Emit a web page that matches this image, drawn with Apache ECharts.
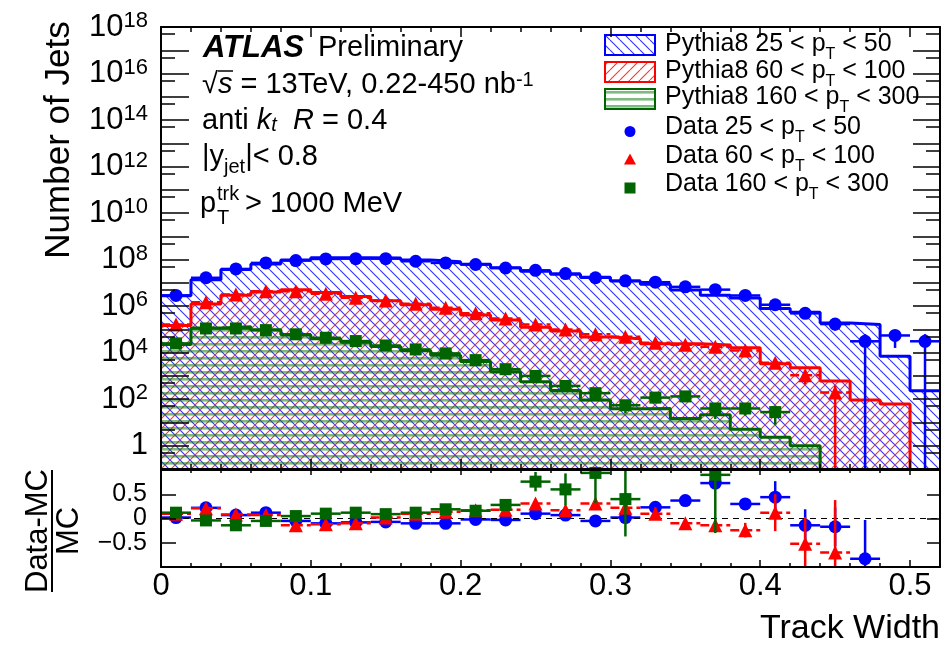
<!DOCTYPE html>
<html><head><meta charset="utf-8">
<script src="https://cdn.jsdelivr.net/npm/echarts@6/dist/echarts.min.js"></script>
<style>html,body{margin:0;padding:0;background:#fff}#c{width:949px;height:646px}</style>
</head><body><div id="c"></div>
<script>
// ---------------- data ----------------
const binCenters = [0.01,0.03,0.05,0.07,0.09,0.11,0.13,0.15,0.17,0.19,0.21,0.23,0.25,0.27,0.29,0.31,0.33,0.35,0.37,0.39,0.41,0.43,0.45,0.47,0.49,0.51];
const binWidth = 0.02;

// Pythia8 (MC) histograms, number of jets per bin
const blueMC  = [2.82e6,1.35e7,3.72e7,6.46e7,9.55e7,1.20e8,1.20e8,1.17e8,9.55e7,8.13e7,6.31e7,4.47e7,3.16e7,2.34e7,1.74e7,1.20e7,8.71e6,4.90e6,2.95e6,2.24e6,7.94e5,5.50e5,1.91e5,1.62e5,7.08e3,229];
const redMC   = [1.48e5,1.23e6,2.95e6,4.07e6,5.13e6,3.89e6,2.57e6,1.70e6,1.15e6,7.41e5,4.17e5,2.51e5,1.23e5,8.51e4,4.68e4,3.98e4,2.45e4,2.45e4,2.14e4,1.62e4,3.31e3,2.24e3,603,93,62];
const greenMC = [2.24e4,1.15e5,1.29e5,9.77e4,5.89e4,3.98e4,2.82e4,1.86e4,1.23e4,7.76e3,4.17e3,1.51e3,562,234,93,39,40,14.8,21.4,5.1,2.3,1.0];

// Data points
const blueData  = [2.88e6,1.66e7,3.98e7,7.24e7,9.12e7,1.07e8,1.10e8,1.10e8,8.51e7,7.24e7,6.17e7,4.37e7,3.47e7,2.51e7,1.66e7,1.23e7,1.07e7,6.76e6,5.13e6,2.88e6,1.15e6,4.90e5,1.70e5,3.09e4,5.50e4,3.09e4];
const redData   = [1.62e5,1.48e6,3.16e6,4.37e6,4.37e6,3.39e6,2.29e6,1.74e6,1.26e6,8.51e5,4.90e5,2.95e5,1.62e5,1.00e5,6.17e4,4.90e4,2.69e4,2.19e4,1.82e4,1.23e4,3.72e3,1.07e3,195];
const greenData = [2.51e4,1.10e5,1.10e5,9.33e4,6.17e4,4.37e4,3.16e4,2.04e4,1.38e4,9.33e3,4.79e3,1.95e3,1.00e3,372,182,55,117,132,40,40,28];

const blueDataErr  = [0,0,0,0,0,0,0,0,0,0,0,0,0,0,0,0,0,0,0,0,2.6e5,1.9e5,8.2e4,3.2e4,3.9e4,3.2e4];
const redDataErr   = [0,0,0,0,0,0,0,0,0,0,0,0,0,0,0,0,0,0,0,0,1260,640,200];
const greenDataErr = [0,0,0,0,0,0,0,0,0,0,0,0,0,0,58,30,47,53,26,20,20];

// (Data-MC)/MC
const blueRatio  = [0.02,0.22,0.07,0.12,-0.05,-0.10,-0.08,-0.07,-0.10,-0.10,-0.02,-0.03,0.10,0.07,-0.05,0.02,0.23,0.37,0.73,0.30,0.44,-0.14,-0.17,-0.83];
const redRatio   = [0.10,0.21,0.08,0.07,-0.14,-0.12,-0.10,0.02,0.10,0.14,0.17,0.18,0.31,0.17,0.31,0.22,0.10,-0.10,-0.14,-0.24,0.12,-0.52,-0.70];
const greenRatio = [0.12,-0.04,-0.14,-0.05,0.05,0.10,0.12,0.09,0.12,0.19,0.16,0.28,0.76,0.60,0.94,0.40,null,null,0.90,null,null];
const blueRatioErr  = [0.01,0.01,0.01,0.01,0.01,0.01,0.01,0.01,0.01,0.01,0.01,0.01,0.01,0.01,0.01,0.01,0.03,0.05,0.10,0.10,0.33,0.33,0.40,0.80];
const redRatioErr   = [0.01,0.01,0.01,0.01,0.01,0.01,0.01,0.01,0.01,0.01,0.01,0.01,0.02,0.02,0.03,0.03,0.13,0.06,0.07,0.15,0.38,0.55,1.08];
const greenRatioErr = [0.02,0.02,0.02,0.02,0.02,0.02,0.02,0.02,0.02,0.02,0.02,0.05,0.20,0.33,0.62,0.77,0,0,1.20,0,0];

// axis ticks / labels
const X_MIN = 0, X_MAX = 0.52;
const Y_MIN = 0.1, Y_MAX = 1e18;
const xLabelValues = [0,0.1,0.2,0.3,0.4,0.5];
const xMinorTicks = [0.02,0.04,0.06,0.08,0.12,0.14,0.16,0.18,0.22,0.24,0.26,0.28,0.32,0.34,0.36,0.38,0.42,0.44,0.46,0.48];
const yLabelValues = [1,1e2,1e4,1e6,1e8,1e10,1e12,1e14,1e16,1e18];
const yMajorTicks = [1,1e1,1e2,1e3,1e4,1e5,1e6,1e7,1e8,1e9,1e10,1e11,1e12,1e13,1e14,1e15,1e16,1e17,1e18];
const yMinorTicks = [0.5,5,5e1,5e2,5e3,5e4,5e5,5e6,5e7,5e8,5e9,5e10,5e11,5e12,5e13,5e14,5e15,5e16,5e17];
const ratioTickValues = [-0.5,0,0.5];
const ratioLabelsOuter = [-0.5,0.5];
const ratioLabelsInner = [0];

// ---------------- helpers ----------------
const FONT = '"Liberation Sans", Arial, Helvetica, sans-serif';
const BLUE = '#0000ff', RED = '#ff0000', GREEN = '#006400';
const EMPTY = 1e-3;

function pattern(kind, color) {
  const c = document.createElement('canvas');
  if (kind === 'h') { c.width = 10; c.height = 7; } else { c.width = 10; c.height = 10; }
  const ctx = c.getContext('2d');
  if (kind === 'h') {
    ctx.fillStyle = color; ctx.fillRect(0, 0, 10, 2.6);
  } else {
    ctx.strokeStyle = color; ctx.lineWidth = 1.1;
    ctx.beginPath();
    for (let k = -1; k <= 1; k++) {
      if (kind === 'b') { ctx.moveTo(k * 10, 0); ctx.lineTo(k * 10 + 10, 10); }
      else { ctx.moveTo(k * 10, 10); ctx.lineTo(k * 10 + 10, 0); }
    }
    ctx.stroke();
  }
  return { image: c, repeat: 'repeat' };
}
const patBlue = pattern('b', '#3333ff');
const patRed = pattern('f', '#ff3333');
const patGreen = pattern('h', 'rgba(0,120,0,0.5)');

function histSteps(vals) {
  const pts = vals.map((v, i) => [binCenters[i] - binWidth / 2, v]);
  const lastEdge = binCenters[vals.length - 1] + binWidth / 2;
  pts.push([lastEdge, vals[vals.length - 1]]);
  if (lastEdge < X_MAX - 1e-9) pts.push([lastEdge, EMPTY]);
  return pts;
}
function upperErrPoints(vals, errs) {
  return vals.map((v, i) => [binCenters[i], v, Math.max(v - errs[i], EMPTY), v + errs[i]]);
}
function ratioErrPoints(vals, errs) {
  const out = [];
  vals.forEach((r, i) => { if (r !== null) out.push([binCenters[i], r, r - errs[i], r + errs[i]]); });
  return out;
}
function points(vals) {
  const out = [];
  vals.forEach((v, i) => { if (v !== null) out.push([binCenters[i], v]); });
  return out;
}
function errSeries(data, xi, yi, color, dashH, z) {
  return {
    type: 'custom', xAxisIndex: xi, yAxisIndex: yi, clip: true, z: z, silent: true,
    data: data, encode: { x: 0, y: 1 },
    renderItem: function (params, api) {
      const x = api.value(0), y = api.value(1), lo = api.value(2), hi = api.value(3);
      const a = api.coord([x - binWidth / 2, y]), b = api.coord([x + binWidth / 2, y]);
      const t = api.coord([x, hi]), u = api.coord([x, lo]);
      return { type: 'group', children: [
        { type: 'line', shape: { x1: a[0], y1: a[1], x2: b[0], y2: b[1] }, style: { stroke: color, lineWidth: 2.5, lineDash: dashH || null } },
        { type: 'line', shape: { x1: t[0], y1: t[1], x2: u[0], y2: u[1] }, style: { stroke: color, lineWidth: 2.5 } }
      ] };
    }
  };
}
function histSeries(vals, color, pat, z) {
  return {
    type: 'line', xAxisIndex: 0, yAxisIndex: 0, data: histSteps(vals), step: 'end',
    symbol: 'none', showSymbol: false, clip: true, z: z, silent: true,
    lineStyle: { color: color, width: 3 },
    areaStyle: { color: pat, origin: 'start', opacity: 1 }
  };
}
function scatterSeries(vals, xi, yi, symbol, size, color, z) {
  return { type: 'scatter', xAxisIndex: xi, yAxisIndex: yi, data: points(vals), symbol: symbol,
    symbolSize: size, itemStyle: { color: color, opacity: 1 }, z: z, clip: true, silent: true };
}

const frameLine = { show: true, onZero: false, lineStyle: { color: '#000', width: 2 } };
const noLine = { show: false, onZero: false };
function xAx(grid, pos, ticks, len, showLine, label) {
  return { type: 'value', gridIndex: grid, position: pos, min: X_MIN, max: X_MAX, z: 10,
    axisLine: showLine ? frameLine : noLine,
    axisTick: { show: true, inside: true, length: len, customValues: ticks, lineStyle: { color: '#000', width: 1.5 } },
    axisLabel: label || { show: false }, splitLine: { show: false } };
}
function yUp(pos, ticks, len, showLine, label) {
  return { type: 'log', logBase: 10, gridIndex: 0, position: pos, min: Y_MIN, max: Y_MAX, z: 10,
    axisLine: showLine ? frameLine : noLine,
    axisTick: ticks ? { show: true, inside: true, length: len, customValues: ticks, lineStyle: { color: '#000', width: 1.5 } } : { show: false },
    axisLabel: label || { show: false }, splitLine: { show: false } };
}
function yLow(pos, len, showLine, label) {
  return { type: 'value', gridIndex: 1, position: pos, min: -1, max: 1, z: 10,
    axisLine: showLine ? frameLine : noLine,
    axisTick: len ? { show: true, inside: true, length: len, customValues: ratioTickValues, lineStyle: { color: '#000', width: 1.5 } } : { show: false },
    axisLabel: label || { show: false }, splitLine: { show: false } };
}

const xLabel = { show: true, customValues: xLabelValues, margin: 4, fontSize: 31, lineHeight: 31, color: '#000', fontFamily: FONT,
  showMinLabel: true, showMaxLabel: true, formatter: v => String(v) };
function yLabel(values) {
  return { show: true, customValues: values, margin: 13, color: '#000', showMinLabel: true, showMaxLabel: true, hideOverlap: false,
    formatter: function (v) { const e = Math.round(Math.log10(v)); return e === 0 ? '{m|1}' : '{m|10}{s|' + e + '}'; },
    rich: { m: { fontSize: 31, lineHeight: 34, fontFamily: FONT, color: '#000' },
            s: { fontSize: 22, lineHeight: 10, verticalAlign: 'top', fontFamily: FONT, color: '#000' } } };
}
function rLabel(values) {
  return { show: true, customValues: values, margin: 14, fontSize: 25, lineHeight: 20, color: '#000', fontFamily: FONT,
    showMinLabel: true, showMaxLabel: true, hideOverlap: false,
    formatter: v => (v < 0 ? '\u2212' + Math.abs(v) : String(v)) };
}
// top label placed a hair inside the axis range to avoid float rounding at the extent
const yLabelsMain = yLabelValues.slice(0, -1);
const yLabelsTop = yLabelValues.slice(-1).map(v => v * 0.99999);

// ---------------- text / legend graphics ----------------
function txt(x, y, text, size, extra) {
  return Object.assign({ type: 'text', x: x, y: y, silent: true,
    style: { text: text, fontSize: size, fontFamily: FONT, fill: '#000', align: 'left', verticalAlign: 'middle' } }, extra || {});
}
function richTxt(x, y, text, rich) {
  return { type: 'text', x: x, y: y, silent: true,
    style: { text: text, fontFamily: FONT, fill: '#000', align: 'left', verticalAlign: 'middle', rich: rich } };
}
const F = FONT;
const legendRich = { m: { fontSize: 25, lineHeight: 37, fontFamily: F, fill: '#000' },
                     s: { fontSize: 16, lineHeight: 10, verticalAlign: 'bottom', fontFamily: F, fill: '#000' } };
const legendItems = [
  { y: 45, ty: 44.5, box: patBlue, col: BLUE, text: '{m|Pythia8 25 < p}{s|T}{m| < 50}' },
  { y: 72, ty: 71, box: patRed, col: RED, text: '{m|Pythia8 60 < p}{s|T}{m| < 100}' },
  { y: 99, ty: 97.5, box: patGreen, col: GREEN, text: '{m|Pythia8 160 < p}{s|T}{m| < 300}' },
  { y: 131.5, ty: 127.5, sym: 'circle', col: BLUE, text: '{m|Data 25 < p}{s|T}{m| < 50}' },
  { y: 159.5, ty: 156, sym: 'triangle', col: RED, text: '{m|Data 60 < p}{s|T}{m| < 100}' },
  { y: 188, ty: 184.5, sym: 'rect', col: GREEN, text: '{m|Data 160 < p}{s|T}{m| < 300}' }
];
const graphics = [];
legendItems.forEach(it => {
  if (it.box) {
    graphics.push({ type: 'rect', silent: true, shape: { x: 605, y: it.y - 10, width: 50, height: 20 },
      style: { fill: it.box, stroke: it.col, lineWidth: 2 } });
  } else if (it.sym === 'circle') {
    graphics.push({ type: 'circle', silent: true, shape: { cx: 630, cy: it.y, r: 5.5 }, style: { fill: it.col } });
  } else if (it.sym === 'triangle') {
    graphics.push({ type: 'polygon', silent: true, shape: { points: [[630, it.y - 6], [636, it.y + 5], [624, it.y + 5]] }, style: { fill: it.col } });
  } else {
    graphics.push({ type: 'rect', silent: true, shape: { x: 624.5, y: it.y - 5.5, width: 11, height: 11 }, style: { fill: it.col } });
  }
  graphics.push(richTxt(665, it.ty, it.text, legendRich));
});

// ATLAS label block
graphics.push(txt(203, 48, 'ATLAS', 31, { style: { text: 'ATLAS', fontSize: 31, fontStyle: 'italic', fontWeight: 'bold', fontFamily: F, fill: '#000', align: 'left', verticalAlign: 'middle' } }));
graphics.push(txt(318, 48, 'Preliminary', 29));
graphics.push(richTxt(202, 85, '{m|\u221A}{i|s}{m| = 13TeV, 0.22-450 nb}{sup|-1}', {
  m: { fontSize: 29, lineHeight: 30, fontFamily: F }, i: { fontSize: 29, lineHeight: 30, fontStyle: 'italic', fontFamily: F },
  sup: { fontSize: 20, lineHeight: 10, verticalAlign: 'top', fontFamily: F } }));
graphics.push({ type: 'line', silent: true, shape: { x1: 218, y1: 71, x2: 233, y2: 71 }, style: { stroke: '#000', lineWidth: 1.5 } });
graphics.push(richTxt(202, 121, '{m|anti }{i|k}{isub|t}{m|  }{i|R}{m| = 0.4}', {
  m: { fontSize: 29, lineHeight: 28, fontFamily: F }, i: { fontSize: 29, lineHeight: 28, fontStyle: 'italic', fontFamily: F },
  isub: { fontSize: 20, lineHeight: 10, verticalAlign: 'bottom', fontStyle: 'italic', fontFamily: F } }));
graphics.push(richTxt(202, 157, '{m||y}{sub|jet}{m||< 0.8}', {
  m: { fontSize: 29, lineHeight: 41, fontFamily: F }, sub: { fontSize: 20, lineHeight: 10, verticalAlign: 'bottom', fontFamily: F } }));
graphics.push(txt(200, 204, 'p', 29));
graphics.push(txt(217, 194, 'trk', 20));
graphics.push(txt(217, 218, 'T', 20));
graphics.push(txt(245, 204, '> 1000 MeV', 29));

// axis titles
graphics.push(txt(59, 140, 'Number of Jets', 35, { rotation: Math.PI / 2, style: { text: 'Number of Jets', fontSize: 35, fontFamily: F, fill: '#000', align: 'center', verticalAlign: 'middle' } }));
graphics.push(txt(38, 531, 'Data-MC', 31, { rotation: Math.PI / 2, style: { text: 'Data-MC', fontSize: 31, fontFamily: F, fill: '#000', align: 'center', verticalAlign: 'middle' } }));
graphics.push(txt(69, 531, 'MC', 31, { rotation: Math.PI / 2, style: { text: 'MC', fontSize: 31, fontFamily: F, fill: '#000', align: 'center', verticalAlign: 'middle' } }));
graphics.push({ type: 'line', silent: true, shape: { x1: 52, y1: 470, x2: 52, y2: 592 }, style: { stroke: '#000', lineWidth: 2 } });
graphics.push(txt(940, 628.5, 'Track Width', 34, { style: { text: 'Track Width', fontSize: 34, fontFamily: F, fill: '#000', align: 'right', verticalAlign: 'middle' } }));

// ---------------- option ----------------
const option = {
  animation: false,
  backgroundColor: '#fff',
  textStyle: { fontFamily: FONT },
  grid: [
    { left: 161, top: 27, width: 779, height: 442, outerBoundsMode: 'none' },
    { left: 161, top: 470, width: 779, height: 97, outerBoundsMode: 'none' }
  ],
  xAxis: [
    xAx(0, 'bottom', xLabelValues, 10, true),
    xAx(0, 'bottom', xMinorTicks, 5, false),
    xAx(0, 'top', xLabelValues, 10, true),
    xAx(0, 'top', xMinorTicks, 5, false),
    xAx(1, 'bottom', xLabelValues, 7, true, xLabel),
    xAx(1, 'bottom', xMinorTicks, 4, false),
    xAx(1, 'top', xLabelValues, 5, true),
    xAx(1, 'top', xMinorTicks, 3, false)
  ],
  yAxis: [
    yUp('left', yMajorTicks, 28, true, yLabel(yLabelsMain)),
    yUp('left', yMinorTicks, 14, false),
    yUp('right', yMajorTicks, 27, true),
    yUp('right', yMinorTicks, 14, false),
    yLow('left', 15, true, rLabel(ratioLabelsInner)),
    yLow('right', 13, true),
    yLow('left', 0, false, rLabel(ratioLabelsOuter)),
    yUp('left', null, 0, false, yLabel(yLabelsTop))
  ],
  series: [
    histSeries(blueMC, BLUE, patBlue, 1),
    histSeries(redMC, RED, patRed, 2),
    histSeries(greenMC, GREEN, patGreen, 3),
    errSeries(upperErrPoints(blueData, blueDataErr), 0, 0, BLUE, null, 4),
    scatterSeries(blueData, 0, 0, 'circle', 13, BLUE, 5),
    errSeries(upperErrPoints(redData, redDataErr), 0, 0, RED, [9, 4], 6),
    scatterSeries(redData, 0, 0, 'triangle', 14, RED, 7),
    errSeries(upperErrPoints(greenData, greenDataErr), 0, 0, GREEN, null, 8),
    scatterSeries(greenData, 0, 0, 'rect', 12, GREEN, 9),

    Object.assign(errSeries(ratioErrPoints(blueRatio, blueRatioErr), 4, 4, BLUE, null, 4), {
      markLine: { silent: true, symbol: ['none', 'none'], label: { show: false },
        lineStyle: { color: '#000', type: [6, 5], width: 1 }, data: [{ yAxis: 0 }] } }),
    scatterSeries(blueRatio, 4, 4, 'circle', 13, BLUE, 5),
    errSeries(ratioErrPoints(redRatio, redRatioErr), 4, 4, RED, [9, 4], 6),
    scatterSeries(redRatio, 4, 4, 'triangle', 14, RED, 7),
    errSeries(ratioErrPoints(greenRatio, greenRatioErr), 4, 4, GREEN, null, 8),
    scatterSeries(greenRatio, 4, 4, 'rect', 12, GREEN, 9)
  ],
  graphic: graphics
};
const chart = echarts.init(document.getElementById('c'), null, { renderer: 'canvas' });
chart.setOption(option);
</script>
</body></html>
